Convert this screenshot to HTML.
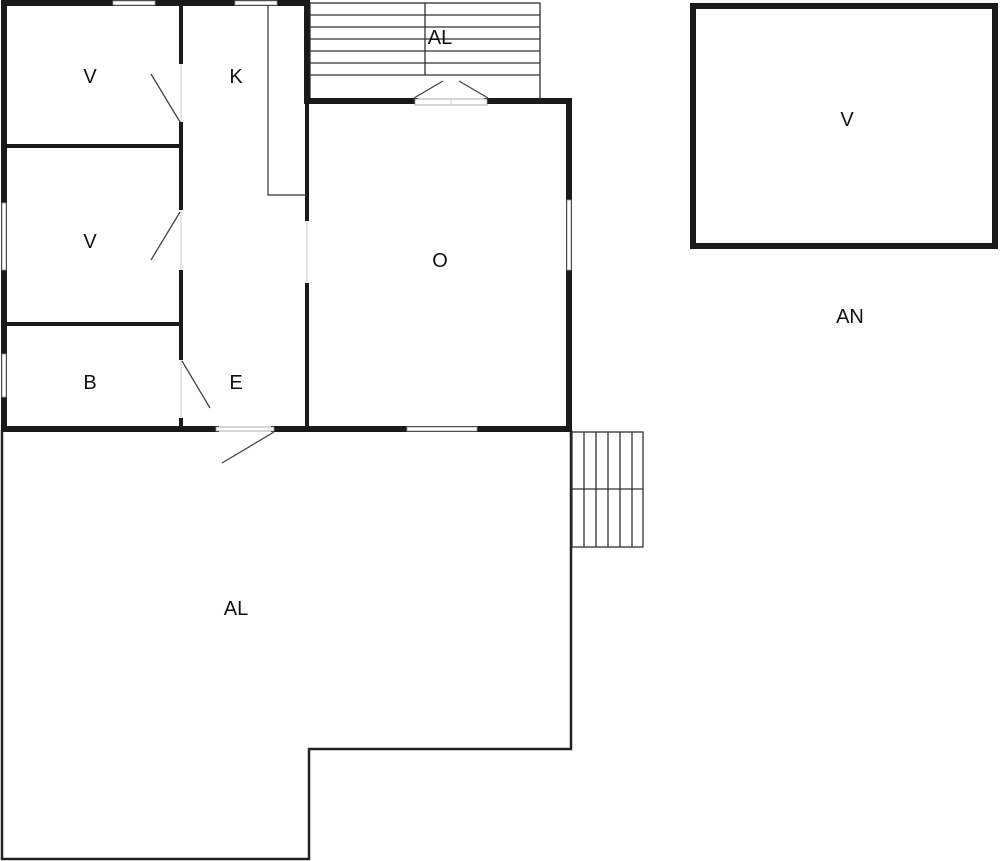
<!DOCTYPE html>
<html><head><style>
html,body{margin:0;padding:0;background:#fff;width:1000px;height:861px;overflow:hidden}
svg{display:block}
text{font-family:"Liberation Sans",sans-serif;font-size:20px;fill:#111;text-anchor:middle}
</style></head><body>
<svg width="1000" height="861" viewBox="0 0 1000 861">
<!-- outer AL terrace -->
<polyline points="2,430 2,859 309,859 309,749 571,749 571,430" fill="none" stroke="#222" stroke-width="2.5"/>
<!-- top stairs -->
<g stroke="#333" stroke-width="1.3" fill="none">
<rect x="310" y="3" width="230" height="97"/>
<line x1="310" y1="15" x2="540" y2="15"/><line x1="310" y1="27" x2="540" y2="27"/>
<line x1="310" y1="39" x2="540" y2="39"/><line x1="310" y1="51" x2="540" y2="51"/>
<line x1="310" y1="63" x2="540" y2="63"/><line x1="310" y1="75" x2="540" y2="75"/>
<line x1="425" y1="3" x2="425" y2="75"/>
</g>
<!-- right stairs -->
<g stroke="#333" stroke-width="1.3" fill="none">
<rect x="572" y="432" width="71" height="115"/>
<line x1="584" y1="432" x2="584" y2="547"/><line x1="596" y1="432" x2="596" y2="547"/>
<line x1="608" y1="432" x2="608" y2="547"/><line x1="620" y1="432" x2="620" y2="547"/>
<line x1="632" y1="432" x2="632" y2="547"/>
<line x1="572" y1="489" x2="643" y2="489"/>
</g>
<!-- thick walls -->
<g stroke="#1a1a1a" stroke-width="6" fill="none" stroke-linecap="square">
<line x1="4" y1="3" x2="307" y2="3"/>
<line x1="4" y1="3" x2="4" y2="429"/>
<line x1="307" y1="3" x2="307" y2="101"/>
<line x1="307" y1="101" x2="415" y2="101"/>
<line x1="487" y1="101" x2="569" y2="101"/>
<line x1="569" y1="101" x2="569" y2="429"/>
<line x1="4" y1="429" x2="216" y2="429"/>
<line x1="274" y1="429" x2="569" y2="429"/>
</g>
<g stroke="#1a1a1a" stroke-width="4" fill="none">
<line x1="307" y1="101" x2="307" y2="221"/>
<line x1="307" y1="283" x2="307" y2="429"/>
<line x1="181" y1="5" x2="181" y2="64"/>
<line x1="181" y1="122" x2="181" y2="210"/>
<line x1="181" y1="270" x2="181" y2="360"/>
<line x1="181" y1="418" x2="181" y2="429"/>
<line x1="5" y1="146" x2="181" y2="146"/>
<line x1="5" y1="324" x2="181" y2="324"/>
</g>
<!-- windows -->
<g fill="#fff" stroke="#999" stroke-width="0.8">
<rect x="113" y="1" width="42" height="4"/>
<rect x="235" y="1" width="42" height="4"/>
<rect x="2" y="203" width="4" height="67"/>
<rect x="2" y="354" width="4" height="43"/>
<rect x="567" y="200" width="4" height="70"/>
<rect x="407" y="427" width="70" height="4"/>
<rect x="216" y="427" width="58" height="4"/>
<rect x="415" y="99" width="72" height="6"/>
</g>
<g stroke="#ccc" stroke-width="1">
<line x1="181" y1="64" x2="181" y2="122"/><line x1="181" y1="210" x2="181" y2="270"/>
<line x1="181" y1="360" x2="181" y2="418"/><line x1="307" y1="221" x2="307" y2="283"/>
<line x1="451" y1="99" x2="451" y2="105"/>
</g>
<!-- kitchen counter -->
<polyline points="268,5 268,195 307,195" fill="none" stroke="#333" stroke-width="1.2"/>
<!-- door swings -->
<g stroke="#444" stroke-width="1.3">
<line x1="151" y1="74" x2="180" y2="122"/>
<line x1="151" y1="260" x2="180" y2="212"/>
<line x1="182" y1="361" x2="210" y2="408"/>
<line x1="222" y1="463" x2="274" y2="432"/>
<line x1="414" y1="98" x2="443" y2="81"/>
<line x1="488" y1="98" x2="459" y2="81"/>
</g>
<!-- separate building -->
<rect x="693" y="6" width="302" height="240" fill="none" stroke="#1a1a1a" stroke-width="6"/>
<!-- labels -->
<text x="90" y="83">V</text>
<text x="236" y="83">K</text>
<text x="90" y="248">V</text>
<text x="90" y="389">B</text>
<text x="236" y="389">E</text>
<text x="440" y="267">O</text>
<text x="440" y="44">AL</text>
<text x="847" y="126">V</text>
<text x="850" y="323">AN</text>
<text x="236" y="615">AL</text>
</svg>
</body></html>
